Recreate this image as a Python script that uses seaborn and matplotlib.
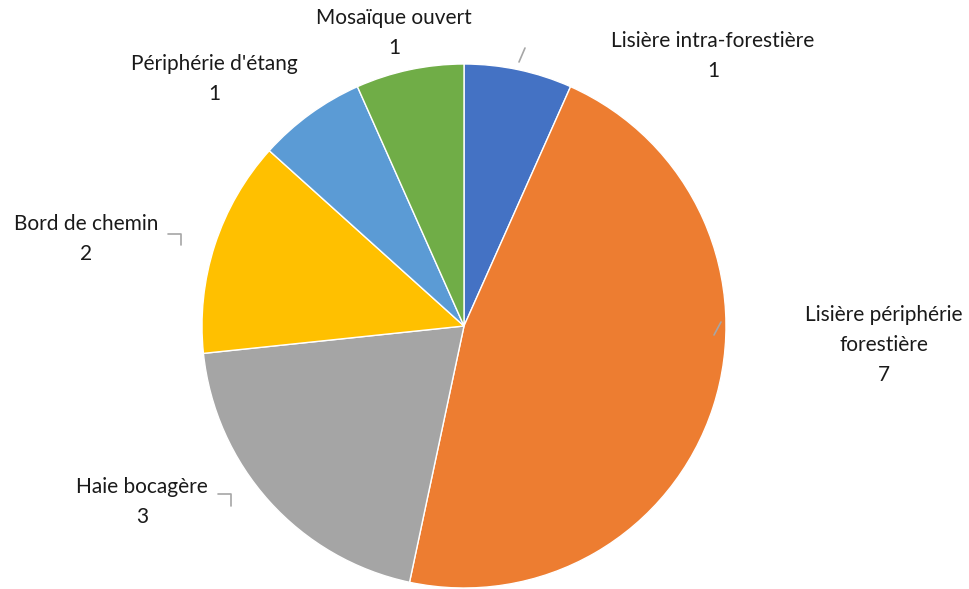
import matplotlib
matplotlib.use("Agg")
import matplotlib.pyplot as plt
import seaborn as sns

# data
categories = ["Lisière intra-forestière", "Lisière périphérie\nforestière", "Haie bocagère",
              "Bord de chemin", "Périphérie d'étang", "Mosaïque ouvert"]
counts = [1, 7, 3, 2, 1, 1]

colors = ["#4472C4", "#ED7D31", "#A5A5A5", "#FFC000", "#5B9BD5", "#70AD47"]

sns.set_theme(style="white")
plt.rcParams['font.family'] = ['Lato', 'DejaVu Sans']

W, H = 970, 589
fig = plt.figure(figsize=(W / 100, H / 100), dpi=100)
ax = fig.add_axes([0, 0, 1, 1])

cx, cy, r = 464, H - 326, 262
ax.pie(counts, colors=colors, startangle=90, counterclock=False,
       center=(cx, cy), radius=r, frame=True,
       wedgeprops=dict(edgecolor="white", linewidth=1))
ax.set_xlim(0, W)
ax.set_ylim(0, H)
ax.set_aspect("equal")
ax.axis("off")

# label layout (pixel positions, y from top)
label_pos = [(713, 56), (884, 345), (142, 502), (86, 239), (214, 79), (394, 33)]
for name, val, (x, y) in zip(categories, counts, label_pos):
    ax.text(x, H - y, f"{name}\n{val}", ha="center", va="center",
            fontsize=15, color="#1a1a1a", linespacing=1.62)

# leader lines
leaders = [
    [(519, 62), (525, 48)],
    [(714, 335), (721, 322)],
    [(168, 234), (181, 234), (181, 245)],
    [(218, 494), (231, 494), (231, 506)],
]
for pts in leaders:
    xs = [p[0] for p in pts]
    ys = [H - p[1] for p in pts]
    ax.plot(xs, ys, color="#A6A6A6", linewidth=1.2)

fig.savefig("out.png", dpi=100)
